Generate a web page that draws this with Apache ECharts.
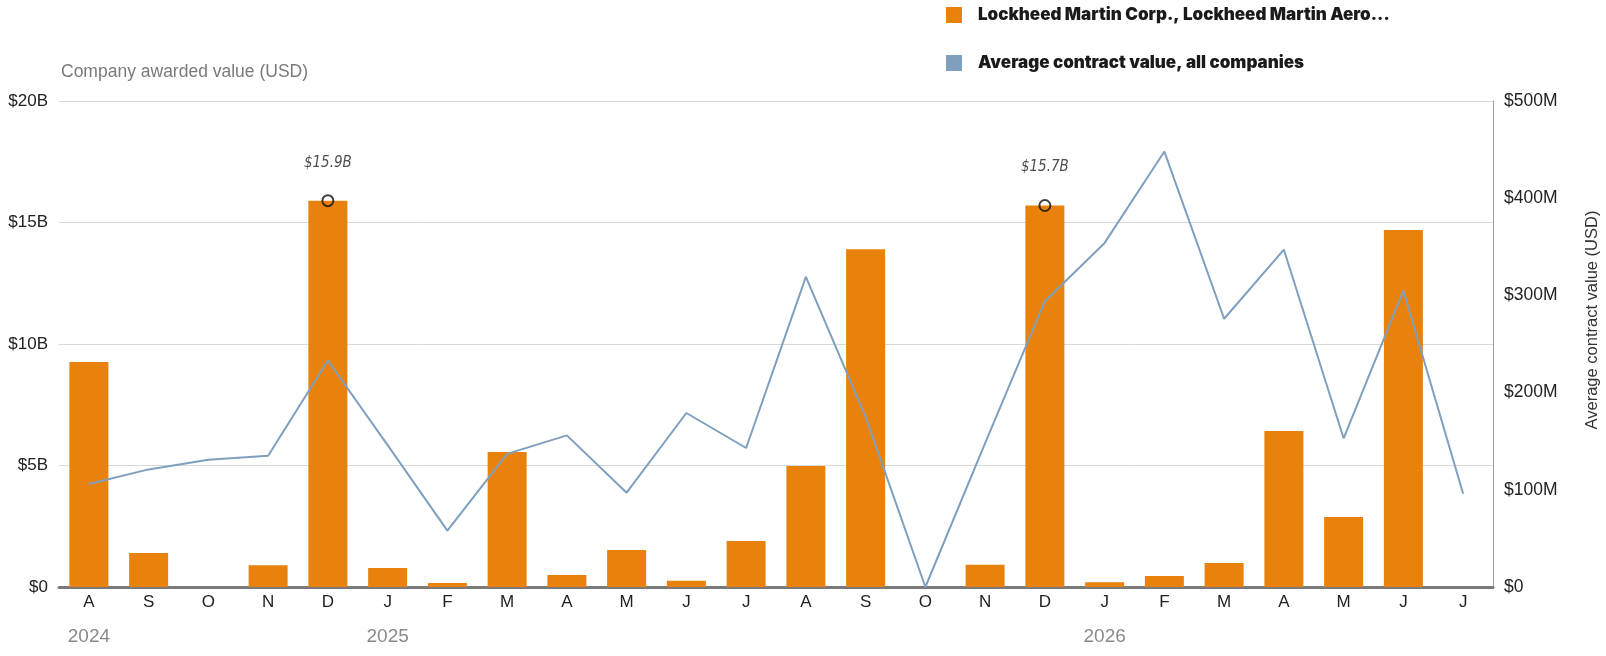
<!DOCTYPE html>
<html>
<head>
<meta charset="utf-8">
<script src="https://cdn.jsdelivr.net/npm/echarts@6/dist/echarts.min.js"></script>
<style>
  html, body { margin: 0; padding: 0; background: #fff; }
  #chart { width: 1606px; height: 656px; }
</style>
</head>
<body>
<div id="chart"></div>
<script>
// Aug 2024 .. Jul 2026
const months = ["A", "S", "O", "N", "D", "J", "F", "M", "A", "M", "J", "J",
                "A", "S", "O", "N", "D", "J", "F", "M", "A", "M", "J", "J"];
const years = ["2024", "", "", "", "", "2025", "", "", "", "", "", "",
               "", "", "", "", "", "2026", "", "", "", "", "", ""];
// company awarded value, billions USD
const companyValue = [9.26, 1.4, 0, 0.9, 15.9, 0.78, 0.16, 5.56, 0.49, 1.52, 0.26, 1.89,
                      4.98, 13.9, 0, 0.92, 15.7, 0.2, 0.45, 0.99, 6.42, 2.88, 14.69, 0];
// average contract value all companies, millions USD
const avgValue = [106, 121, 131, 135, 233, 146, 58, 137, 156, 97, 179, 143,
                  319, 175, 0, 148, 294, 354, 448, 276, 347, 153, 305, 96];
// months that get the highlighted label
const highlighted = [4, 16];

const ORANGE = "#e8820c";
const BLUE = "#7f9fbf";
const FONT = "'Liberation Sans', Arial, sans-serif";

const chart = echarts.init(document.getElementById("chart"));

const peakData = companyValue.map((v, i) => (highlighted.includes(i) ? v : "-"));

chart.setOption({
  animation: false,
  textStyle: { fontFamily: FONT },
  legend: {
    orient: "vertical",
    left: 941,
    top: 0,
    itemWidth: 16,
    itemHeight: 16,
    itemGap: 28,
    icon: "rect",
    data: ["Lockheed Martin Corp., Lockheed Martin Aero...", "Average contract value, all companies"],
    textStyle: {
      fontFamily: "Inter, 'DejaVu Sans', sans-serif",
      fontWeight: 900,
      fontSize: 17,
      lineHeight: 20,
      color: "#1a1a1a",
      padding: [0, 0, 0, 11],
    },
  },
  grid: { left: 59, right: 113, top: 101, bottom: 69 },
  xAxis: {
    type: "category",
    data: months,
    axisTick: { show: false },
    axisLine: { lineStyle: { color: "#7a7a7a", width: 3 } },
    axisLabel: {
      margin: 5,
      interval: 0,
      formatter: (val, idx) => (years[idx] ? `{m|${val}}\n{y|${years[idx]}}` : `{m|${val}}`),
      rich: {
        m: { fontSize: 17, color: "#222", lineHeight: 20, fontFamily: FONT },
        y: { fontSize: 19, color: "#8a8a8a", lineHeight: 20, padding: [29, 0, 0, 0], fontFamily: FONT },
      },
    },
  },
  yAxis: [
    {
      type: "value",
      min: 0,
      max: 20,
      interval: 5,
      axisLabel: {
        margin: 11,
        fontSize: 17,
        color: "#222",
        formatter: (v) => (v === 0 ? "$0" : `$${v}B`),
      },
      splitLine: { lineStyle: { color: "#d9d9d9", width: 1 } },
    },
    {
      type: "value",
      min: 0,
      max: 500,
      interval: 100,
      position: "right",
      axisLine: { show: true, lineStyle: { color: "#a0a0a0", width: 1 } },
      axisLabel: {
        margin: 11,
        fontSize: 17.5,
        color: "#222",
        formatter: (v) => (v === 0 ? "$0" : `$${v}M`),
      },
      splitLine: { show: false },
    },
  ],
  graphic: [
    {
      type: "text",
      left: 61,
      top: 63,
      style: { text: "Company awarded value (USD)", fill: "#7a7a7a", font: `17.5px ${FONT}` },
    },
    {
      type: "text",
      x: 1592,
      y: 320,
      rotation: Math.PI / 2,
      style: {
        text: "Average contract value (USD)",
        fill: "#333",
        font: `16.5px ${FONT}`,
        textAlign: "center",
        textVerticalAlign: "middle",
        align: "center",
        verticalAlign: "middle",
      },
    },
  ],
  series: [
    {
      name: "Lockheed Martin Corp., Lockheed Martin Aero...",
      type: "bar",
      data: companyValue,
      barWidth: 39,
      itemStyle: { color: ORANGE },
      z: 2,
    },
    {
      name: "Average contract value, all companies",
      type: "line",
      yAxisIndex: 1,
      data: avgValue,
      symbol: "none",
      lineStyle: { color: BLUE, width: 2 },
      itemStyle: { color: BLUE },
      z: 3,
    },
    {
      name: "peaks",
      type: "scatter",
      data: peakData,
      symbol: "circle",
      symbolSize: 11,
      itemStyle: { color: "rgba(0,0,0,0)", borderColor: "#111", borderWidth: 2 },
      label: {
        show: true,
        position: "top",
        distance: 24,
        formatter: (p) => `$${p.value}B`,
        fontFamily: "'Liberation Sans Narrow', 'DejaVu Sans Condensed', sans-serif",
        fontStyle: "italic",
        fontSize: 15,
        color: "#222",
      },
      z: 4,
    },
  ],
});
</script>
</body>
</html>
